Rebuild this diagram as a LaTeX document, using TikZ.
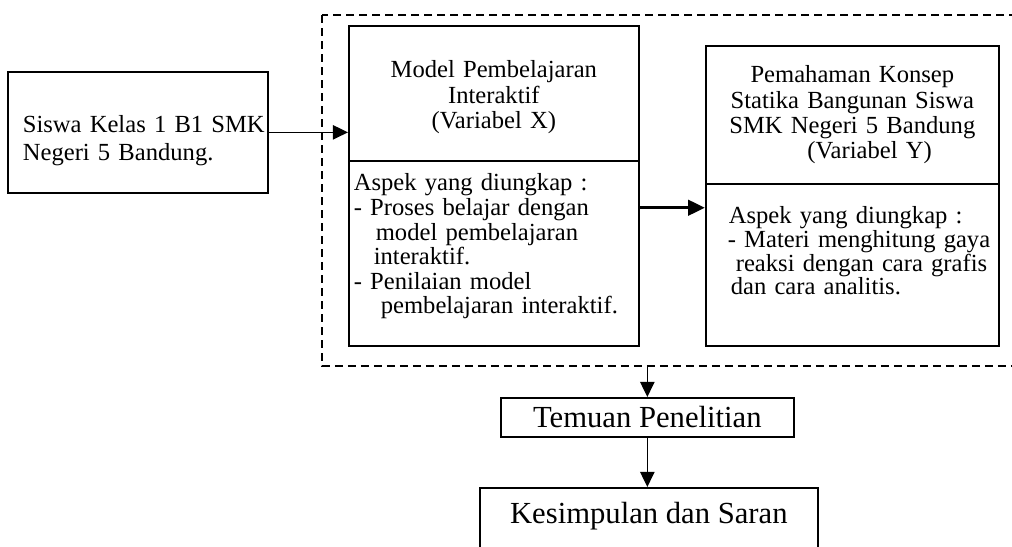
\documentclass[tikz,border=0pt]{standalone}
\usepackage{fontspec}
\setmainfont{Liberation Serif}
\usetikzlibrary{arrows.meta}

\tikzset{
  box/.style={draw, line width=1.2pt, inner ysep=0pt, anchor=north west},
  arrowline/.style={line width=1pt, -{Triangle[length=0.38cm, width=0.36cm]}},
  thickarrow/.style={line width=2.4pt, -{Triangle[length=0.42cm, width=0.38cm]}},
  frame/.style={line width=1pt, dash pattern=on 0.2cm off 0.125cm},
}

\begin{document}
\begin{tikzpicture}
\useasboundingbox (0,0) rectangle (25.3,-13.675);
\clip (0,0) rectangle (25.3,-13.675);

% kerangka putus-putus
\draw[frame] (8.05,-0.375) rectangle (26,-9.15);
\coordinate (frameBottom) at (8.05,-9.15);

% siswa
\node[box, inner xsep=0.05cm, text width=6.4cm, align=left, text height=1.525cm, text depth=1.5cm,
  font=\fontsize{17.5}{19.9}\selectfont] (siswa) at (0.175,-1.775)
  {\hspace*{0.325cm}Siswa Kelas 1 B1 SMK\\\hspace*{0.325cm}Negeri 5 Bandung.};

% variabel X
\node[box, inner xsep=0.125cm, text width=7cm, align=center, text height=1.3cm, text depth=2.075cm,
  font=\fontsize{17.5}{18}\selectfont] (modelX) at (8.7,-0.625)
  {Model Pembelajaran\\Interaktif\\(Variabel X)};
\node[box, inner xsep=0.125cm, text width=7cm, align=left, text height=0.75cm, text depth=3.875cm,
  font=\fontsize{17.5}{17.5}\selectfont] (aspekX) at (8.7,-4)
  {Aspek yang diungkap :\\- Proses belajar dengan\\\hspace*{0.55cm}model pembelajaran\\
   \hspace*{0.5cm}interaktif.\\- Penilaian model\\\hspace*{0.675cm}pembelajaran interaktif.};

% variabel Y
\node[box, inner xsep=0.125cm, text width=7.075cm, align=center, text height=0.925cm, text depth=2.525cm,
  font=\fontsize{17.5}{18}\selectfont] (modelY) at (17.625,-1.125)
  {Pemahaman Konsep\\Statika Bangunan Siswa\\SMK Negeri 5 Bandung\\\hspace*{1.4em}(Variabel Y)};
\node[box, inner xsep=0.05cm, text width=7.225cm, align=left, text height=1cm, text depth=3.05cm,
  font=\fontsize{17.5}{16.8}\selectfont] (aspekY) at (17.625,-4.575)
  {\hspace*{0.525cm}Aspek yang diungkap :\\\hspace*{0.5cm}- Materi menghitung gaya\\
   \hspace*{0.7cm}reaksi dengan cara grafis\\\hspace*{0.575cm}dan cara analitis.};

% temuan dan kesimpulan
\node[box, inner sep=0pt, minimum width=7.325cm, minimum height=0.975cm,
  font=\fontsize{21.8}{24}\selectfont] (temuan) at (12.5,-9.925) {Temuan Penelitian};
\node[box, inner xsep=0pt, minimum width=8.45cm, text height=0.9cm, text depth=2cm,
  font=\fontsize{21.8}{24}\selectfont] (kesimpulan) at (11.975,-12.175) {Kesimpulan dan Saran};

\draw[arrowline] (siswa.east) -- (siswa.east -| modelX.west);
\draw[thickarrow] ([yshift=1.14cm]aspekX.east) -- ([yshift=1.14cm]aspekX.east -| aspekY.west);
\draw[arrowline] (temuan.north |- frameBottom) -- (temuan.north);
\draw[arrowline] (temuan.south) -- (temuan.south |- kesimpulan.north);

\end{tikzpicture}
\end{document}
